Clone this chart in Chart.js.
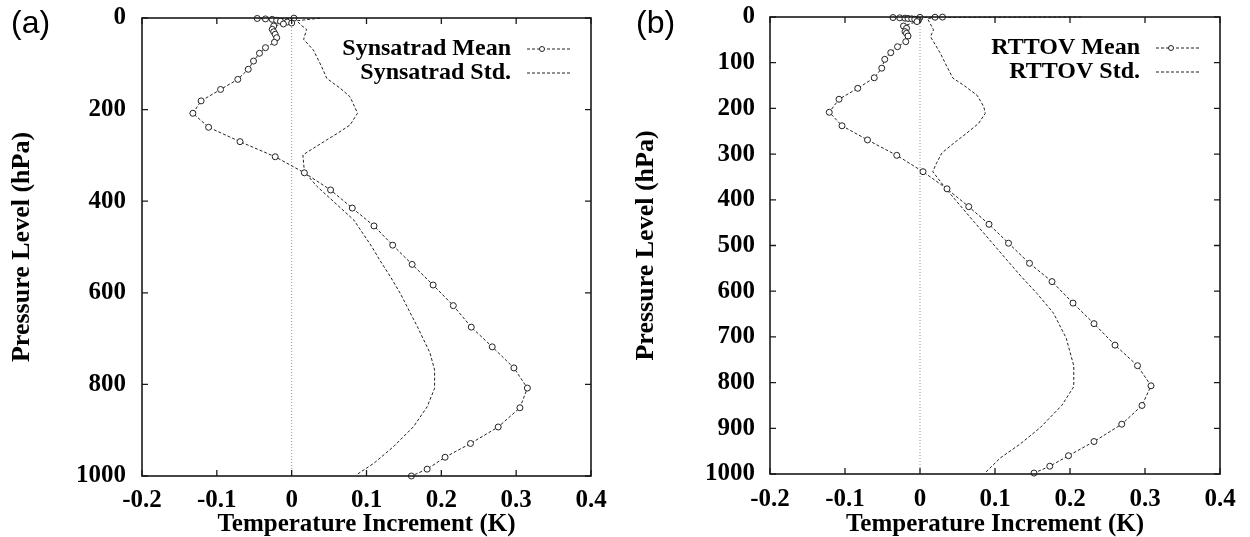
<!DOCTYPE html>
<html>
<head>
<meta charset="UTF-8">
<title>Temperature increment profiles</title>
<script src="https://cdn.jsdelivr.net/npm/chart.js"></script>
<style>
    body { margin: 0; background: #fff; width: 1250px; height: 537px; position: relative; overflow: hidden; }
    .panel { position: absolute; top: 0; width: 625px; height: 537px; }
    .tag { position: absolute; top: 6px; font: 32px/32px 'Liberation Sans', Arial, sans-serif; color: #000; }
</style>
</head>
<body>
<div class="panel" style="left:0"><canvas id="chartA" width="625" height="537"></canvas></div>
<div class="panel" style="left:625px"><canvas id="chartB" width="625" height="537"></canvas></div>
<div class="tag" style="left:11px">(a)</div>
<div class="tag" style="left:636px">(b)</div>
<script>
// (a) Synsatrad: temperature increment (K) at pressure level (hPa)
const synMeanP = [0.3, 1, 2, 3, 5, 7, 9, 11, 13, 17.5, 24.7, 30, 35.6, 43, 53, 64.8, 77, 94, 112, 134, 156, 181, 208,
    238.6, 270, 303, 338, 375.5, 415, 454, 496, 538, 583, 628, 675, 718, 764, 808, 851, 893, 929, 959, 985, 1000];
const synMeanT = [0.003, -0.046, -0.035, -0.026, -0.020, -0.015, -0.006, 0.000, -0.011, -0.024, -0.026, -0.024, -0.022, -0.020, -0.023, -0.035, -0.043, -0.051, -0.058, -0.072, -0.095, -0.121, -0.132,
    -0.111, -0.069, -0.022, 0.017, 0.052, 0.081, 0.110, 0.135, 0.161, 0.189, 0.216, 0.240, 0.268, 0.297, 0.315, 0.305, 0.276, 0.239, 0.205, 0.181, 0.160];
const synStdP = [0.3, 6, 15, 24.7, 46.5, 70, 106, 132, 153.5, 172, 208, 233.6, 252, 266, 284.5, 299, 335.6, 368, 441, 499, 528, 565, 601, 674, 732, 768.6, 808.5, 849, 892, 936, 972, 998];
const synStdT = [0.038, 0.007, 0.012, 0.020, 0.016, 0.029, 0.040, 0.047, 0.065, 0.078, 0.088, 0.078, 0.061, 0.047, 0.029, 0.015, 0.017, 0.034, 0.083, 0.107, 0.1175, 0.132, 0.145, 0.168, 0.185, 0.191, 0.191, 0.181, 0.163, 0.136, 0.110, 0.086];

// (b) RTTOV
const rtMeanP = [0.2, 0.5, 0.8, 1.2, 1.8, 2.5, 3.2, 4, 5, 7, 10, 19.7, 24.7, 32, 35.7, 41.6, 54,
    65, 78, 92.6, 112, 133, 156, 180, 208.5, 238, 269, 302.7, 338.5, 376, 415, 453.6, 495, 539,
    579, 626, 671, 718, 763, 807, 850, 891, 929, 960, 983, 998];
const rtMeanT = [0.030, 0.020, 0.000, -0.036, -0.027, -0.020, -0.016, -0.011, -0.007, -0.002, -0.004, -0.022, -0.018, -0.020, -0.018, -0.016, -0.019,
    -0.030, -0.039, -0.047, -0.051, -0.061, -0.083, -0.108, -0.121, -0.104, -0.070, -0.031, 0.004, 0.036, 0.065, 0.092, 0.118, 0.146,
    0.176, 0.204, 0.232, 0.260, 0.290, 0.308, 0.296, 0.269, 0.232, 0.198, 0.173, 0.152];
const rtStdP = [0.1, 1, 3, 6.6, 28, 43, 79, 109, 134, 149, 171, 196, 211, 233, 254.5, 280, 298, 320, 338.5, 378.6, 450, 532, 568, 605, 648, 703, 763, 809, 850, 899, 935, 965, 997];
const rtStdT = [0.215, 0.030, 0.010, 0.011, 0.018, 0.014, 0.027, 0.036, 0.044, 0.058, 0.076, 0.085, 0.087, 0.078, 0.062, 0.042, 0.029, 0.022, 0.017, 0.036, 0.073, 0.116, 0.135, 0.156, 0.178, 0.195, 0.205, 0.205, 0.189, 0.160, 0.133, 0.107, 0.087];

const xTicks = [-0.2, -0.1, 0, 0.1, 0.2, 0.3, 0.4];

const serif = "'Liberation Serif', 'Times New Roman', serif";
const ink = '#222';

function pairs(t, p) {
    return t.map((v, i) => ({ x: v, y: p[i] }));
}

// zero line, boxed frame with inward ticks on all sides, and gnuplot-style key
const framePlugin = {
    id: 'frame',
    beforeDatasetsDraw(chart) {
        const { ctx, chartArea: a, scales: { x } } = chart;
        const x0 = x.getPixelForValue(0);
        ctx.save();
        ctx.strokeStyle = '#9a9a9a';
        ctx.lineWidth = 1;
        ctx.setLineDash([1, 2]);
        ctx.beginPath();
        ctx.moveTo(x0, a.top);
        ctx.lineTo(x0, a.bottom);
        ctx.stroke();
        ctx.restore();
    },
    afterDraw(chart) {
        const { ctx, chartArea: a, scales: { x, y } } = chart;
        const tl = 6;
        ctx.save();
        ctx.strokeStyle = '#1a1a1a';
        ctx.lineWidth = 1.6;
        ctx.strokeRect(a.left, a.top, a.right - a.left, a.bottom - a.top);
        ctx.lineWidth = 1.3;
        ctx.beginPath();
        x.ticks.forEach(t => {
            const px = x.getPixelForValue(t.value);
            ctx.moveTo(px, a.bottom); ctx.lineTo(px, a.bottom - tl);
            ctx.moveTo(px, a.top); ctx.lineTo(px, a.top + tl);
        });
        y.ticks.forEach(t => {
            const py = y.getPixelForValue(t.value);
            ctx.moveTo(a.left, py); ctx.lineTo(a.left + tl, py);
            ctx.moveTo(a.right, py); ctx.lineTo(a.right - tl, py);
        });
        ctx.stroke();

        // key
        ctx.font = 'bold 24px ' + serif;
        ctx.fillStyle = '#000';
        ctx.textAlign = 'right';
        ctx.textBaseline = 'middle';
        chart.data.datasets.forEach((ds, i) => {
            const ry = a.top + 31 + i * 24;
            ctx.fillText(ds.label, a.right - 80, ry);
            ctx.strokeStyle = ds.borderColor;
            ctx.lineWidth = 1;
            ctx.setLineDash(ds.borderDash);
            ctx.beginPath();
            ctx.moveTo(a.right - 64, ry);
            ctx.lineTo(a.right - 19, ry);
            ctx.stroke();
            ctx.setLineDash([]);
            if (ds.pointRadius > 0) {
                ctx.fillStyle = '#fff';
                ctx.beginPath();
                ctx.arc(a.right - 49, ry, 2.5, 0, Math.PI * 2);
                ctx.fill();
                ctx.stroke();
                ctx.fillStyle = '#000';
            }
        });
        ctx.restore();
    }
};

function makeChart(id, names, mean, std, yStep, box) {
    return new Chart(document.getElementById(id), {
        type: 'line',
        data: {
            datasets: [{
                label: names[0],
                data: mean,
                borderColor: ink,
                borderWidth: 1,
                borderDash: [3, 2],
                pointRadius: 3,
                pointBorderWidth: 1,
                pointBorderColor: ink,
                pointBackgroundColor: '#fff',
                tension: 0,
                clip: false
            }, {
                label: names[1],
                data: std,
                borderColor: ink,
                borderWidth: 1,
                borderDash: [3, 2],
                pointRadius: 0,
                tension: 0,
                clip: false
            }]
        },
        options: {
            responsive: false,
            animation: false,
            layout: { padding: { left: 0, top: box.top, right: box.right, bottom: 0 } },
            plugins: { legend: { display: false }, tooltip: { enabled: false } },
            scales: {
                x: {
                    type: 'linear',
                    min: -0.2, max: 0.4,
                    afterBuildTicks: s => { s.ticks = xTicks.map(v => ({ value: v })); },
                    grid: { display: false, drawTicks: false },
                    border: { display: false },
                    ticks: {
                        padding: box.xPad,
                        color: '#000',
                        font: { family: serif, size: 25, weight: 'bold' },
                        callback: v => (Math.abs(v) < 1e-9 ? '0' : v.toFixed(1))
                    },
                    title: {
                        display: true,
                        text: 'Temperature Increment (K)',
                        color: '#000',
                        padding: { top: 0, bottom: 0 },
                        font: { family: serif, size: 25, weight: 'bold', lineHeight: 1 }
                    },
                    afterFit: s => { s.height = box.xHeight; s.paddingLeft = 0; s.paddingRight = 0; }
                },
                y: {
                    type: 'linear',
                    reverse: true,
                    min: 0, max: 1000,
                    grid: { display: false, drawTicks: false },
                    border: { display: false },
                    ticks: {
                        stepSize: yStep,
                        padding: box.yPad,
                        color: '#000',
                        font: { family: serif, size: 25, weight: 'bold' },
                        callback: v => String(v)
                    },
                    title: {
                        display: true,
                        text: 'Pressure Level (hPa)',
                        color: '#000',
                        padding: { top: box.yTitle, bottom: 0 },
                        font: { family: serif, size: 26, weight: 'bold', lineHeight: 1 }
                    },
                    afterFit: s => { s.width = box.left; s.paddingTop = 0; s.paddingBottom = 0; }
                }
            }
        },
        plugins: [framePlugin]
    });
}

makeChart('chartA', ['Synsatrad Mean', 'Synsatrad Std.'],
    pairs(synMeanT, synMeanP), pairs(synStdT, synStdP), 200,
    { left: 142, top: 18, right: 34, xHeight: 61, xPad: 10, yPad: 16, yTitle: 9 });

makeChart('chartB', ['RTTOV Mean', 'RTTOV Std.'],
    pairs(rtMeanT, rtMeanP), pairs(rtStdT, rtStdP), 100,
    { left: 145, top: 17, right: 30, xHeight: 63, xPad: 11, yPad: 15, yTitle: 8 });
</script>
</body>
</html>
